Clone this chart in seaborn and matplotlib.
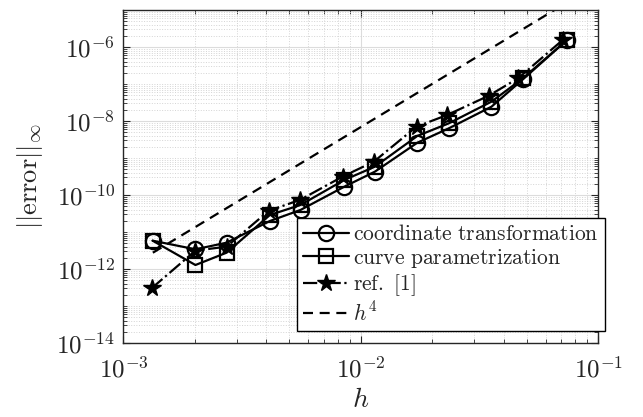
import numpy as np
import pandas as pd
import matplotlib
matplotlib.use("Agg")
import matplotlib.pyplot as plt
import seaborn as sns
from matplotlib.ticker import LogLocator, FixedLocator, NullFormatter, LogFormatterSciNotation
from matplotlib.lines import Line2D

# ---- data ----
h = [1.327e-3, 2.01e-3, 2.72e-3, 4.14e-3, 5.57e-3, 8.51e-3,
     1.146e-2, 1.73e-2, 2.35e-2, 3.55e-2, 4.82e-2, 7.39e-2]
err_coord = [5.82e-12, 3.40e-12, 5.14e-12, 1.98e-11, 3.94e-11, 1.67e-10,
             4.27e-10, 2.59e-9, 6.35e-9, 2.43e-8, 1.34e-7, 1.55e-6]
err_curve = [5.82e-12, 1.28e-12, 2.76e-12, 2.88e-11, 5.37e-11, 2.54e-10,
             5.82e-10, 3.94e-9, 8.67e-9, 3.33e-8, 1.43e-7, 1.55e-6]
h_ref = [1.314e-3, 2.01e-3, 2.72e-3, 4.10e-3, 5.54e-3, 8.37e-3,
         1.134e-2, 1.716e-2, 2.31e-2, 3.46e-2, 4.60e-2, 7.09e-2]
err_ref = [3.01e-13, 3.13e-12, 4.01e-12, 3.77e-11, 7.33e-11, 3.13e-10,
           7.94e-10, 7.02e-9, 1.45e-8, 4.83e-8, 1.43e-7, 1.55e-6]
h4_h = [1.33e-3, 7.39e-2]
h4_err = [2.75e-12, 1.6e-5]

labels = [r'$\mathrm{coordinate\ transformation}$',
          r'$\mathrm{curve\ parametrization}$',
          r'$\mathrm{ref.\ [1]}$',
          r'$h^4$']
xticks_major = [1e-3, 1e-2, 1e-1]
yticks_major = [1e-14, 1e-12, 1e-10, 1e-8, 1e-6]

sns.set_style("white")
plt.rcParams['font.family'] = ['cmr10', 'DejaVu Serif']
plt.rcParams['mathtext.fontset'] = 'cm'
plt.rcParams['axes.formatter.use_mathtext'] = True

fig = plt.figure(figsize=(6.43, 4.17), dpi=100)
ax = fig.add_axes([0.192, 0.1775, 0.7384, 0.7986])

df_c = pd.DataFrame({'h': h, 'err': err_coord})
df_s = pd.DataFrame({'h': h, 'err': err_curve})
df_r = pd.DataFrame({'h': h_ref, 'err': err_ref})
df_4 = pd.DataFrame({'h': h4_h, 'err': h4_err})

lw = 1.6
sns.lineplot(data=df_c, x='h', y='err', ax=ax, color='k', lw=lw, linestyle='-',
             marker='o', markersize=11, markerfacecolor='none',
             markeredgecolor='k', markeredgewidth=1.6, estimator=None, zorder=3)
sns.lineplot(data=df_s, x='h', y='err', ax=ax, color='k', lw=lw, linestyle='-',
             marker='s', markersize=9.5, markerfacecolor='none',
             markeredgecolor='k', markeredgewidth=1.6, estimator=None, zorder=3)
sns.lineplot(data=df_r, x='h', y='err', ax=ax, color='k', lw=lw, linestyle='-.',
             marker='*', markersize=13, markerfacecolor='k',
             markeredgecolor='k', markeredgewidth=1.0, estimator=None, zorder=3)
sns.lineplot(data=df_4, x='h', y='err', ax=ax, color='k', lw=lw, linestyle=(0, (4.5, 3)),
             estimator=None, zorder=2)

ax.set_xscale('log')
ax.set_yscale('log')
ax.set_xlim(1e-3, 1e-1)
ax.set_ylim(1e-14, 1e-5)

ax.xaxis.set_major_locator(FixedLocator(xticks_major))
ax.yaxis.set_major_locator(FixedLocator(yticks_major))
ax.xaxis.set_major_formatter(LogFormatterSciNotation())
ax.yaxis.set_major_formatter(LogFormatterSciNotation())
ax.xaxis.set_minor_locator(LogLocator(base=10, subs=np.arange(1, 10), numticks=50))
ax.yaxis.set_minor_locator(LogLocator(base=10, subs=np.arange(1, 10), numticks=50))
ax.xaxis.set_minor_formatter(NullFormatter())
ax.yaxis.set_minor_formatter(NullFormatter())

ax.tick_params(which='both', direction='in', top=True, right=True, bottom=True, left=True,
               color='#262626')
ax.tick_params(which='major', length=5, width=0.8, labelsize=18)
ax.tick_params(axis='y', which='major', pad=6)
ax.tick_params(axis='x', which='major', pad=10)
ax.tick_params(which='minor', length=3, width=0.6)

ax.grid(True, which='major', color='#dcdcdc', linestyle='-', linewidth=0.8)
ax.grid(True, which='minor', color='#d4d4d4', linestyle=':', linewidth=0.7)
ax.set_axisbelow(True)
for s in ax.spines.values():
    s.set_color('#262626')
    s.set_linewidth(1.0)
    s.set_visible(True)

ax.set_xlabel(r'$h$', fontsize=20, labelpad=3)
ax.set_ylabel(r'$||\mathrm{error}||_\infty$', fontsize=19, labelpad=8)

handles = [
    Line2D([], [], color='k', lw=lw, ls='-', marker='o', ms=11, mfc='none', mec='k', mew=1.6),
    Line2D([], [], color='k', lw=lw, ls='-', marker='s', ms=9.5, mfc='none', mec='k', mew=1.6),
    Line2D([], [], color='k', lw=lw, ls='-.', marker='*', ms=13, mfc='k', mec='k', mew=1.0),
    Line2D([], [], color='k', lw=lw, ls=(0, (4.5, 3))),
]
leg = ax.legend(handles, labels, loc='lower right', bbox_to_anchor=(605 / 643, (417 - 331) / 417),
                bbox_transform=fig.transFigure, borderaxespad=0, fontsize=15.5,
                frameon=True, fancybox=False, framealpha=1, edgecolor='k',
                handlelength=2.1, handletextpad=0.2, labelspacing=0.12, borderpad=0.3)
leg.get_frame().set_linewidth(1.0)

fig.savefig('out.png', dpi=100)
